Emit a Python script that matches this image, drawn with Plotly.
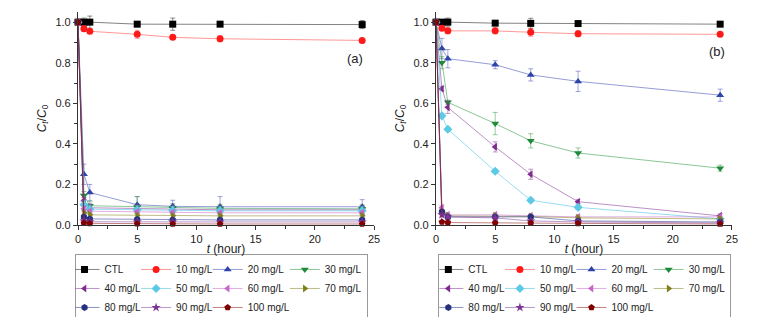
import plotly.graph_objects as go

# ---------------- data ----------------
t_hours = [0, 0.5, 1, 5, 8, 12, 24]
series_names = ["CTL", "10 mg/L", "20 mg/L", "30 mg/L", "40 mg/L", "50 mg/L",
                "60 mg/L", "70 mg/L", "80 mg/L", "90 mg/L", "100 mg/L"]

# panel (a)
a_ctl = [1.0, 1.0, 1.0, 0.99, 0.99, 0.99, 0.988]
a_10 = [1.0, 0.968, 0.955, 0.94, 0.925, 0.918, 0.91]
a_20 = [1.0, 0.25, 0.16, 0.10, 0.092, 0.09, 0.09]
a_30 = [1.0, 0.145, 0.095, 0.09, 0.085, 0.082, 0.08]
a_40 = [1.0, 0.12, 0.085, 0.082, 0.078, 0.075, 0.075]
a_50 = [1.0, 0.10, 0.078, 0.075, 0.072, 0.07, 0.07]
a_60 = [1.0, 0.08, 0.068, 0.065, 0.062, 0.06, 0.06]
a_70 = [1.0, 0.06, 0.05, 0.047, 0.045, 0.045, 0.045]
a_80 = [1.0, 0.04, 0.03, 0.027, 0.025, 0.025, 0.025]
a_90 = [1.0, 0.02, 0.016, 0.015, 0.015, 0.015, 0.015]
a_100 = [1.0, 0.01, 0.008, 0.006, 0.005, 0.005, 0.005]

a_ctl_err = [0, 0.02, 0.03, 0.01, 0.03, 0.01, 0.02]
a_10_err = [0, 0.01, 0.01, 0.02, 0.01, 0.015, 0.01]
a_20_err = [0, 0.05, 0.04, 0.04, 0.03, 0.05, 0.035]
a_30_err = [0, 0.02, 0.02, 0.05, 0.02, 0.02, 0.02]
a_40_err = [0, 0.015, 0.02, 0.02, 0.02, 0.02, 0.02]
a_50_err = [0, 0.02, 0.02, 0.02, 0.02, 0.02, 0.02]
a_60_err = [0, 0.01, 0.01, 0.01, 0.01, 0.01, 0.01]
a_70_err = [0, 0.01, 0.01, 0.01, 0.01, 0.01, 0.01]
a_80_err = [0, 0.01, 0.01, 0.01, 0.01, 0.01, 0.01]
a_90_err = [0, 0.005, 0.005, 0.005, 0.005, 0.005, 0.005]
a_100_err = [0, 0.005, 0.005, 0.005, 0.005, 0.005, 0.005]

# panel (b)
b_ctl = [1.0, 1.0, 1.0, 0.995, 0.994, 0.993, 0.99]
b_10 = [1.0, 0.97, 0.957, 0.957, 0.95, 0.943, 0.94]
b_20 = [1.0, 0.87, 0.82, 0.79, 0.74, 0.708, 0.64]
b_30 = [1.0, 0.80, 0.605, 0.50, 0.415, 0.355, 0.28]
b_40 = [1.0, 0.672, 0.58, 0.385, 0.25, 0.115, 0.045]
b_50 = [1.0, 0.538, 0.472, 0.265, 0.122, 0.087, 0.03]
b_60 = [1.0, 0.085, 0.05, 0.05, 0.045, 0.04, 0.04]
b_70 = [1.0, 0.06, 0.045, 0.045, 0.042, 0.035, 0.03]
b_80 = [1.0, 0.065, 0.04, 0.04, 0.04, 0.02, 0.015]
b_90 = [1.0, 0.05, 0.04, 0.035, 0.02, 0.015, 0.01]
b_100 = [1.0, 0.015, 0.012, 0.01, 0.01, 0.008, 0.005]

b_ctl_err = [0, 0.01, 0.02, 0.005, 0.025, 0.005, 0.01]
b_10_err = [0, 0.01, 0.015, 0.015, 0.02, 0.015, 0.01]
b_20_err = [0, 0.05, 0.045, 0.02, 0.03, 0.05, 0.03]
b_30_err = [0, 0.03, 0.01, 0.055, 0.035, 0.025, 0.015]
b_40_err = [0, 0.01, 0.03, 0.025, 0.025, 0.01, 0.01]
b_50_err = [0, 0.01, 0.01, 0.01, 0.01, 0.01, 0.01]
b_60_err = [0, 0.01, 0.01, 0.01, 0.01, 0.01, 0.01]
b_70_err = [0, 0.01, 0.01, 0.01, 0.01, 0.01, 0.01]
b_80_err = [0, 0.01, 0.01, 0.01, 0.01, 0.01, 0.01]
b_90_err = [0, 0.01, 0.01, 0.01, 0.01, 0.01, 0.01]
b_100_err = [0, 0.005, 0.005, 0.005, 0.005, 0.005, 0.005]

panel_a = [a_ctl, a_10, a_20, a_30, a_40, a_50, a_60, a_70, a_80, a_90, a_100]
panel_a_err = [a_ctl_err, a_10_err, a_20_err, a_30_err, a_40_err, a_50_err,
               a_60_err, a_70_err, a_80_err, a_90_err, a_100_err]
panel_b = [b_ctl, b_10, b_20, b_30, b_40, b_50, b_60, b_70, b_80, b_90, b_100]
panel_b_err = [b_ctl_err, b_10_err, b_20_err, b_30_err, b_40_err, b_50_err,
               b_60_err, b_70_err, b_80_err, b_90_err, b_100_err]

# ---------------- style ----------------
colors = ["#000000", "#FF1A1A", "#2E44A8", "#1E8A3A", "#7E2A8E", "#5CCAE4",
          "#C865C8", "#7F7F1A", "#25307F", "#7A3595", "#800000"]
line_colors = ["rgba(0,0,0,0.55)", "rgba(255,60,60,0.6)", "rgba(60,70,180,0.6)",
               "rgba(40,150,60,0.6)", "rgba(130,50,150,0.6)", "rgba(90,200,230,0.7)",
               "rgba(200,100,200,0.6)", "rgba(130,130,30,0.6)", "rgba(40,50,140,0.6)",
               "rgba(130,60,160,0.6)", "rgba(140,20,20,0.6)"]
symbols = ["square", "circle", "triangle-up", "triangle-down", "triangle-left",
           "diamond", "triangle-left", "triangle-right", "hexagon", "star", "pentagon"]
legend_cols = [0, 1, 2, 3, 0, 1, 2, 3, 0, 1, 2]

FONT = "Arial, Liberation Sans, sans-serif"

fig = go.Figure()
for panel, values_list, errs, xa, ya, leg in [
        ("a", panel_a, panel_a_err, "x", "y", "legend"),
        ("b", panel_b, panel_b_err, "x2", "y2", "legend2")]:
    for i, name in enumerate(series_names):
        fig.add_trace(go.Scatter(
            x=t_hours, y=values_list[i], name=name, mode="lines+markers",
            xaxis=xa, yaxis=ya, legend=leg,
            legendgroup=f"{panel}{legend_cols[i]}",
            line=dict(color=line_colors[i], width=0.9),
            marker=dict(symbol=symbols[i], color=colors[i], size=7,
                        line=dict(width=0)),
            error_y=dict(type="data", array=errs[i], color=line_colors[i],
                         thickness=0.8, width=2.5),
            cliponaxis=False,
        ))

axis_common = dict(
    range=[0, 25], showline=True, linecolor="#333", linewidth=1.2,
    ticks="outside", ticklen=4, tickwidth=1, tickcolor="#333",
    tickvals=[0, 5, 10, 15, 20, 25], showgrid=False, zeroline=False,
    minor=dict(ticks="outside", ticklen=2.5, tickcolor="#333", dtick=2.5, showgrid=False),
    tickfont=dict(family=FONT, size=11, color="#222"),
    title=dict(text="<i>t</i> (hour)", font=dict(family=FONT, size=12, color="#222"),
               standoff=0),
)
yaxis_common = dict(
    range=[0, 1.05], showline=True, linecolor="#333", linewidth=1.2,
    ticks="outside", ticklen=4, tickwidth=1, tickcolor="#333",
    tickvals=[0, 0.2, 0.4, 0.6, 0.8, 1.0], tickformat=".1f",
    showgrid=False, zeroline=False,
    minor=dict(ticks="outside", ticklen=2.5, tickcolor="#333", dtick=0.1, showgrid=False),
    tickfont=dict(family=FONT, size=11, color="#222"),
    title=dict(text="<i>C</i><sub><i>t</i></sub>/<i>C</i><sub>0</sub>",
               font=dict(family=FONT, size=12, color="#222"), standoff=6),
)

leg_common = dict(
    orientation="h", traceorder="grouped", tracegroupgap=0,
    bordercolor="#999", borderwidth=1, bgcolor="white",
    font=dict(family=FONT, size=10, color="#222"),
    yanchor="top", y=-0.136, xanchor="center", itemwidth=30, indentation=-10,
)

fig.update_layout(
    width=765, height=309,
    margin=dict(l=70, r=41, t=4, b=92, autoexpand=False),
    paper_bgcolor="white", plot_bgcolor="white",
    xaxis=dict(domain=[0, 0.4526], anchor="y", **axis_common),
    yaxis=dict(domain=[0, 1], anchor="x", **yaxis_common),
    xaxis2=dict(domain=[0.5474, 1], anchor="y2", **axis_common),
    yaxis2=dict(domain=[0, 1], anchor="x2", **yaxis_common),
    legend=dict(x=0.2187, **leg_common),
    legend2=dict(x=0.775, **leg_common),
    annotations=[
        dict(text="(a)", x=23.4, y=0.82, xref="x", yref="y", showarrow=False,
             font=dict(family=FONT, size=13, color="#222")),
        dict(text="(b)", x=23.7, y=0.855, xref="x2", yref="y2", showarrow=False,
             font=dict(family=FONT, size=13, color="#222")),
    ],
)

fig.write_html("out.html")
